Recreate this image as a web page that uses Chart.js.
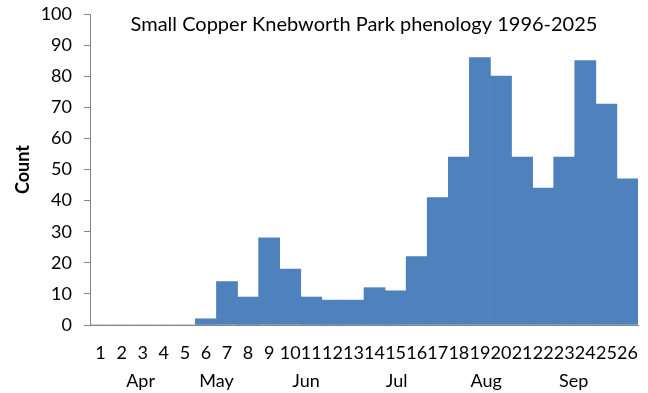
<!DOCTYPE html>
<html>
<head>
<meta charset="utf-8">
<script src="https://cdn.jsdelivr.net/npm/chart.js@4"></script>
<style>
  html, body { margin: 0; padding: 0; background: #fff; }
  #wrap { width: 648px; height: 393px; }
</style>
</head>
<body>
<div id="wrap"><canvas id="chart" width="648" height="393"></canvas></div>
<script>
/* ── Data ───────────────────────────────────────────── */
const weeks  = ["1","2","3","4","5","6","7","8","9","10","11","12","13",
                "14","15","16","17","18","19","20","21","22","23","24","25","26"];
const counts = [0, 0, 0, 0, 0, 2, 14, 9, 28, 18, 9, 8, 8,
                12, 11, 22, 41, 54, 86, 80, 54, 44, 54, 85, 71, 47];
const months   = ["Apr", "May", "Jun", "Jul", "Aug", "Sep"];
// month label anchors, in week-index units
const monthAt  = [1.9, 5.5, 9.75, 14.05, 18.3, 22.45];
const titleText = "Small Copper Knebworth Park phenology 1996-2025";

const FONT = "Lato, 'Liberation Sans', sans-serif";

/* ── Plugin: in-plot title + month row ──────────────── */
const extras = {
  id: "extras",
  afterDraw(chart) {
    const { ctx, chartArea, scales } = chart;
    ctx.save();
    ctx.fillStyle = "#000";
    ctx.textAlign = "center";
    ctx.textBaseline = "middle";
    ctx.font = "20px " + FONT;
    ctx.fillText(titleText, (chartArea.left + chartArea.right) / 2, chartArea.top + 11);
    ctx.font = "18px " + FONT;
    months.forEach((m, i) => {
      ctx.fillText(m, scales.x.getPixelForValue(monthAt[i]), chartArea.bottom + 56);
    });
    ctx.restore();
  }
};

new Chart(document.getElementById("chart"), {
  type: "bar",
  data: {
    labels: weeks,
    datasets: [{
      data: counts,
      backgroundColor: "#4F81BD",
      borderWidth: 0,
      categoryPercentage: 1.0,
      barPercentage: 1.0,
    }],
  },
  options: {
    responsive: false,
    animation: false,
    layout: { padding: { top: 14, right: 10, left: 0, bottom: 0 } },
    plugins: { legend: { display: false }, tooltip: { enabled: false } },
    scales: {
      x: {
        afterFit: s => { s.height = 68; s.paddingLeft = 0; s.paddingRight = 0; },
        grid: { display: false },
        border: { display: true, color: "#868686", width: 1 },
        ticks: {
          color: "#000", autoSkip: false, maxRotation: 0, minRotation: 0,
          padding: 9, font: { family: FONT, size: 18 },
        },
      },
      y: {
        min: 0, max: 100,
        afterFit: s => { s.width = 90; s.paddingTop = 0; s.paddingBottom = 0; },
        grid: { drawOnChartArea: false, tickLength: 6, color: "#868686" },
        border: { display: true, color: "#868686", width: 1 },
        ticks: {
          stepSize: 10, color: "#000", padding: 12,
          font: { family: FONT, size: 18 },
        },
        title: {
          display: true, text: "Count", color: "#000",
          font: { family: FONT, size: 18, weight: "bold" },
          padding: { top: 12, bottom: 0 },
        },
      },
    },
  },
  plugins: [extras],
});
</script>
</body>
</html>
